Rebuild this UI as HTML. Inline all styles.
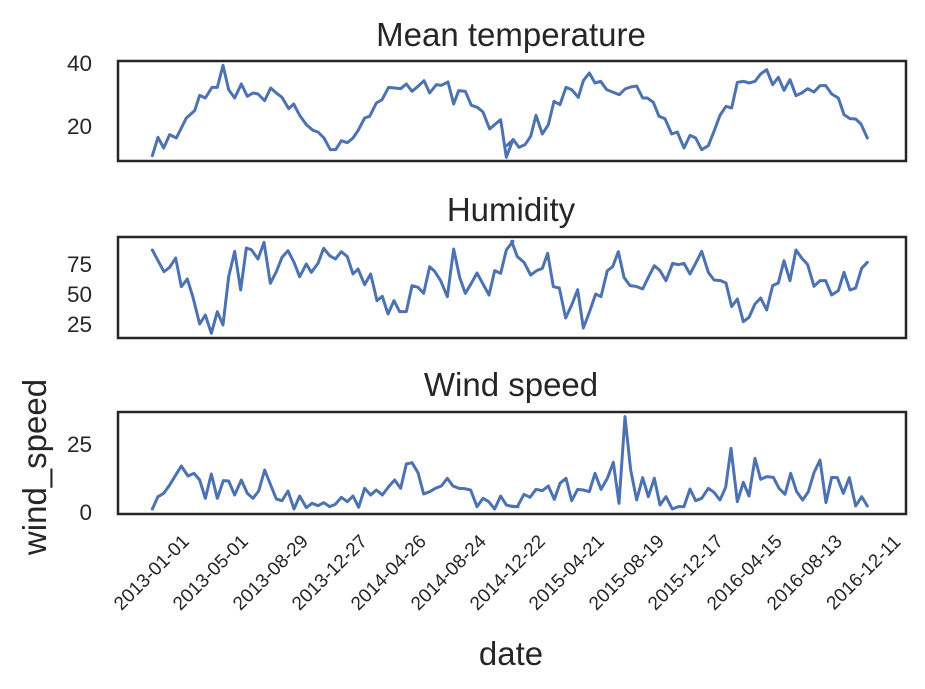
<!DOCTYPE html>
<html><head><meta charset="utf-8"><style>
html,body{margin:0;padding:0;background:#fff;}
svg{display:block;font-family:"Liberation Sans","DejaVu Sans",sans-serif;}
.ln{fill:none;stroke:#4c72b0;stroke-width:9;stroke-linejoin:round;stroke-linecap:round;}
.fr{fill:none;stroke:#262626;stroke-width:2.5;}
.t{font-size:33px;fill:#262626;text-anchor:middle;}
.yt{font-size:22.5px;fill:#262626;text-anchor:end;}
.xt{font-size:19px;fill:#262626;text-anchor:middle;dominant-baseline:central;}
</style></head><body>
<svg width="925" height="689" viewBox="0 0 925 689">
<rect width="925" height="689" fill="#fff"/>
<!-- Panel 1 -->
<text class="t" x="511" y="46">Mean temperature</text>
<g transform="translate(118,58) scale(0.33333)">
<polyline class="ln" points="103,293 120,238 137,270 155,230 175,240 205,180 230,158 245,112 262,120 282,88 298,88 315,22 332,95 350,120 370,78 388,115 405,105 420,108 440,128 458,90 475,105 492,118 512,152 527,138 545,172 565,200 585,217 600,222 618,240 637,275 653,275 670,248 688,254 705,240 720,218 740,180 755,175 775,135 792,125 812,88 830,90 848,92 865,78 882,100 900,85 918,68 935,105 955,80 970,82 990,72 1007,138 1022,98 1042,100 1060,142 1078,148 1095,162 1115,213 1130,200 1148,185 1165,298 1185,245"/>
</g>
<g transform="translate(510,58) scale(0.33333)">
<polyline class="ln" points="-9,262 10,245 27,268 45,260 62,235 78,172 97,228 115,200 132,130 150,140 168,88 185,95 205,118 220,68 238,45 255,75 272,70 290,95 310,103 328,110 345,93 362,87 380,84 398,120 412,120 430,133 447,175 465,182 485,228 502,222 522,270 540,232 557,240 575,275 595,263 612,220 630,172 648,145 665,150 682,73 700,70 718,75 735,70 752,48 770,35 788,80 805,58 822,97 840,65 858,113 875,105 893,92 912,102 930,83 947,83 965,108 985,120 1002,170 1020,182 1037,183 1053,198 1072,240"/>
</g>
<rect class="fr" x="118" y="61" width="788" height="100"/>
<text class="yt" x="92" y="71">40</text>
<text class="yt" x="92" y="134">20</text>
<!-- Panel 2 -->
<text class="t" x="511" y="221">Humidity</text>
<g transform="translate(118,234) scale(0.33333)">
<polyline class="ln" points="103,48 120,80 138,113 155,100 173,72 190,158 208,135 225,190 245,270 262,243 280,298 298,233 315,273 332,128 350,52 368,168 385,42 400,47 420,75 438,25 457,148 475,113 492,70 510,50 528,85 545,128 565,90 580,115 600,88 617,43 635,65 652,75 670,53 688,68 705,120 720,105 740,152 758,120 777,200 793,187 810,240 828,200 845,233 865,233 882,155 900,160 917,178 935,98 950,112 968,140 988,188 1007,45 1025,130 1042,178 1060,148 1077,117 1095,150 1113,183 1130,110 1148,118 1165,48 1185,22"/>
</g>
<g transform="translate(510,234) scale(0.33333)">
<polyline class="ln" points="5,22 22,68 42,85 62,123 80,110 97,103 113,58 130,158 148,162 167,252 185,213 203,167 220,282 238,235 257,180 273,188 292,110 308,98 325,53 342,130 360,155 378,157 398,165 415,130 433,95 450,110 468,140 488,88 505,92 522,88 540,120 557,88 575,52 595,115 612,138 632,140 648,147 665,218 682,195 700,263 717,250 735,210 752,192 770,228 788,155 805,147 822,80 840,140 858,48 875,72 893,92 912,157 930,140 947,140 965,183 985,170 1002,115 1020,168 1037,162 1055,103 1072,85"/>
</g>
<rect class="fr" x="118" y="237" width="788" height="101"/>
<text class="yt" x="92" y="272">75</text>
<text class="yt" x="92" y="302">50</text>
<text class="yt" x="92" y="332">25</text>
<!-- Panel 3 -->
<text class="t" x="511" y="396">Wind speed</text>
<g transform="translate(118,410) scale(0.33333)">
<polyline class="ln" points="103,297 120,260 137,250 155,225 172,197 190,168 210,198 228,190 245,210 262,265 280,192 298,265 316,212 332,213 350,255 370,210 388,250 405,265 422,243 440,180 458,225 475,267 492,272 510,243 528,297 545,258 565,293 582,280 600,287 617,278 635,290 652,283 670,262 688,275 705,258 722,292 740,235 758,255 775,240 793,255 812,230 830,210 848,235 865,162 882,158 900,188 917,252 935,245 952,235 970,228 988,205 1005,228 1023,235 1040,236 1058,240 1077,290 1095,265 1112,275 1130,297 1148,258 1165,285 1185,290 1200,290"/>
</g>
<g transform="translate(510,410) scale(0.33333)">
<polyline class="ln" points="0,288 22,290 42,253 60,262 78,238 97,242 115,228 133,268 150,220 168,205 185,272 203,238 220,240 238,245 255,190 273,238 292,205 310,157 327,280 345,20 362,180 380,270 398,203 415,260 433,205 450,285 468,260 487,297 505,290 522,290 540,237 557,272 575,265 595,235 612,247 630,270 647,232 663,115 682,275 700,217 717,258 735,145 752,208 770,200 790,202 807,235 825,253 842,190 860,245 878,270 895,245 912,188 930,150 948,278 965,202 982,203 1000,250 1018,203 1037,288 1055,260 1072,288"/>
</g>
<rect class="fr" x="118" y="412" width="788" height="102"/>
<text class="yt" x="92" y="452">25</text>
<text class="yt" x="92" y="520">0</text>
<text class="t" transform="translate(46,467) rotate(-90)">wind_speed</text>
<!-- x tick labels -->
<g>
<text class="xt" transform="translate(152,573) rotate(-45)">2013-01-01</text>
<text class="xt" transform="translate(211,573) rotate(-45)">2013-05-01</text>
<text class="xt" transform="translate(271,573) rotate(-45)">2013-08-29</text>
<text class="xt" transform="translate(330,573) rotate(-45)">2013-12-27</text>
<text class="xt" transform="translate(389,573) rotate(-45)">2014-04-26</text>
<text class="xt" transform="translate(449,573) rotate(-45)">2014-08-24</text>
<text class="xt" transform="translate(508,573) rotate(-45)">2014-12-22</text>
<text class="xt" transform="translate(567,573) rotate(-45)">2015-04-21</text>
<text class="xt" transform="translate(627,573) rotate(-45)">2015-08-19</text>
<text class="xt" transform="translate(686,573) rotate(-45)">2015-12-17</text>
<text class="xt" transform="translate(745,573) rotate(-45)">2016-04-15</text>
<text class="xt" transform="translate(805,573) rotate(-45)">2016-08-13</text>
<text class="xt" transform="translate(864,573) rotate(-45)">2016-12-11</text>
</g>
<text class="t" x="511" y="665">date</text>
</svg>
</body></html>
